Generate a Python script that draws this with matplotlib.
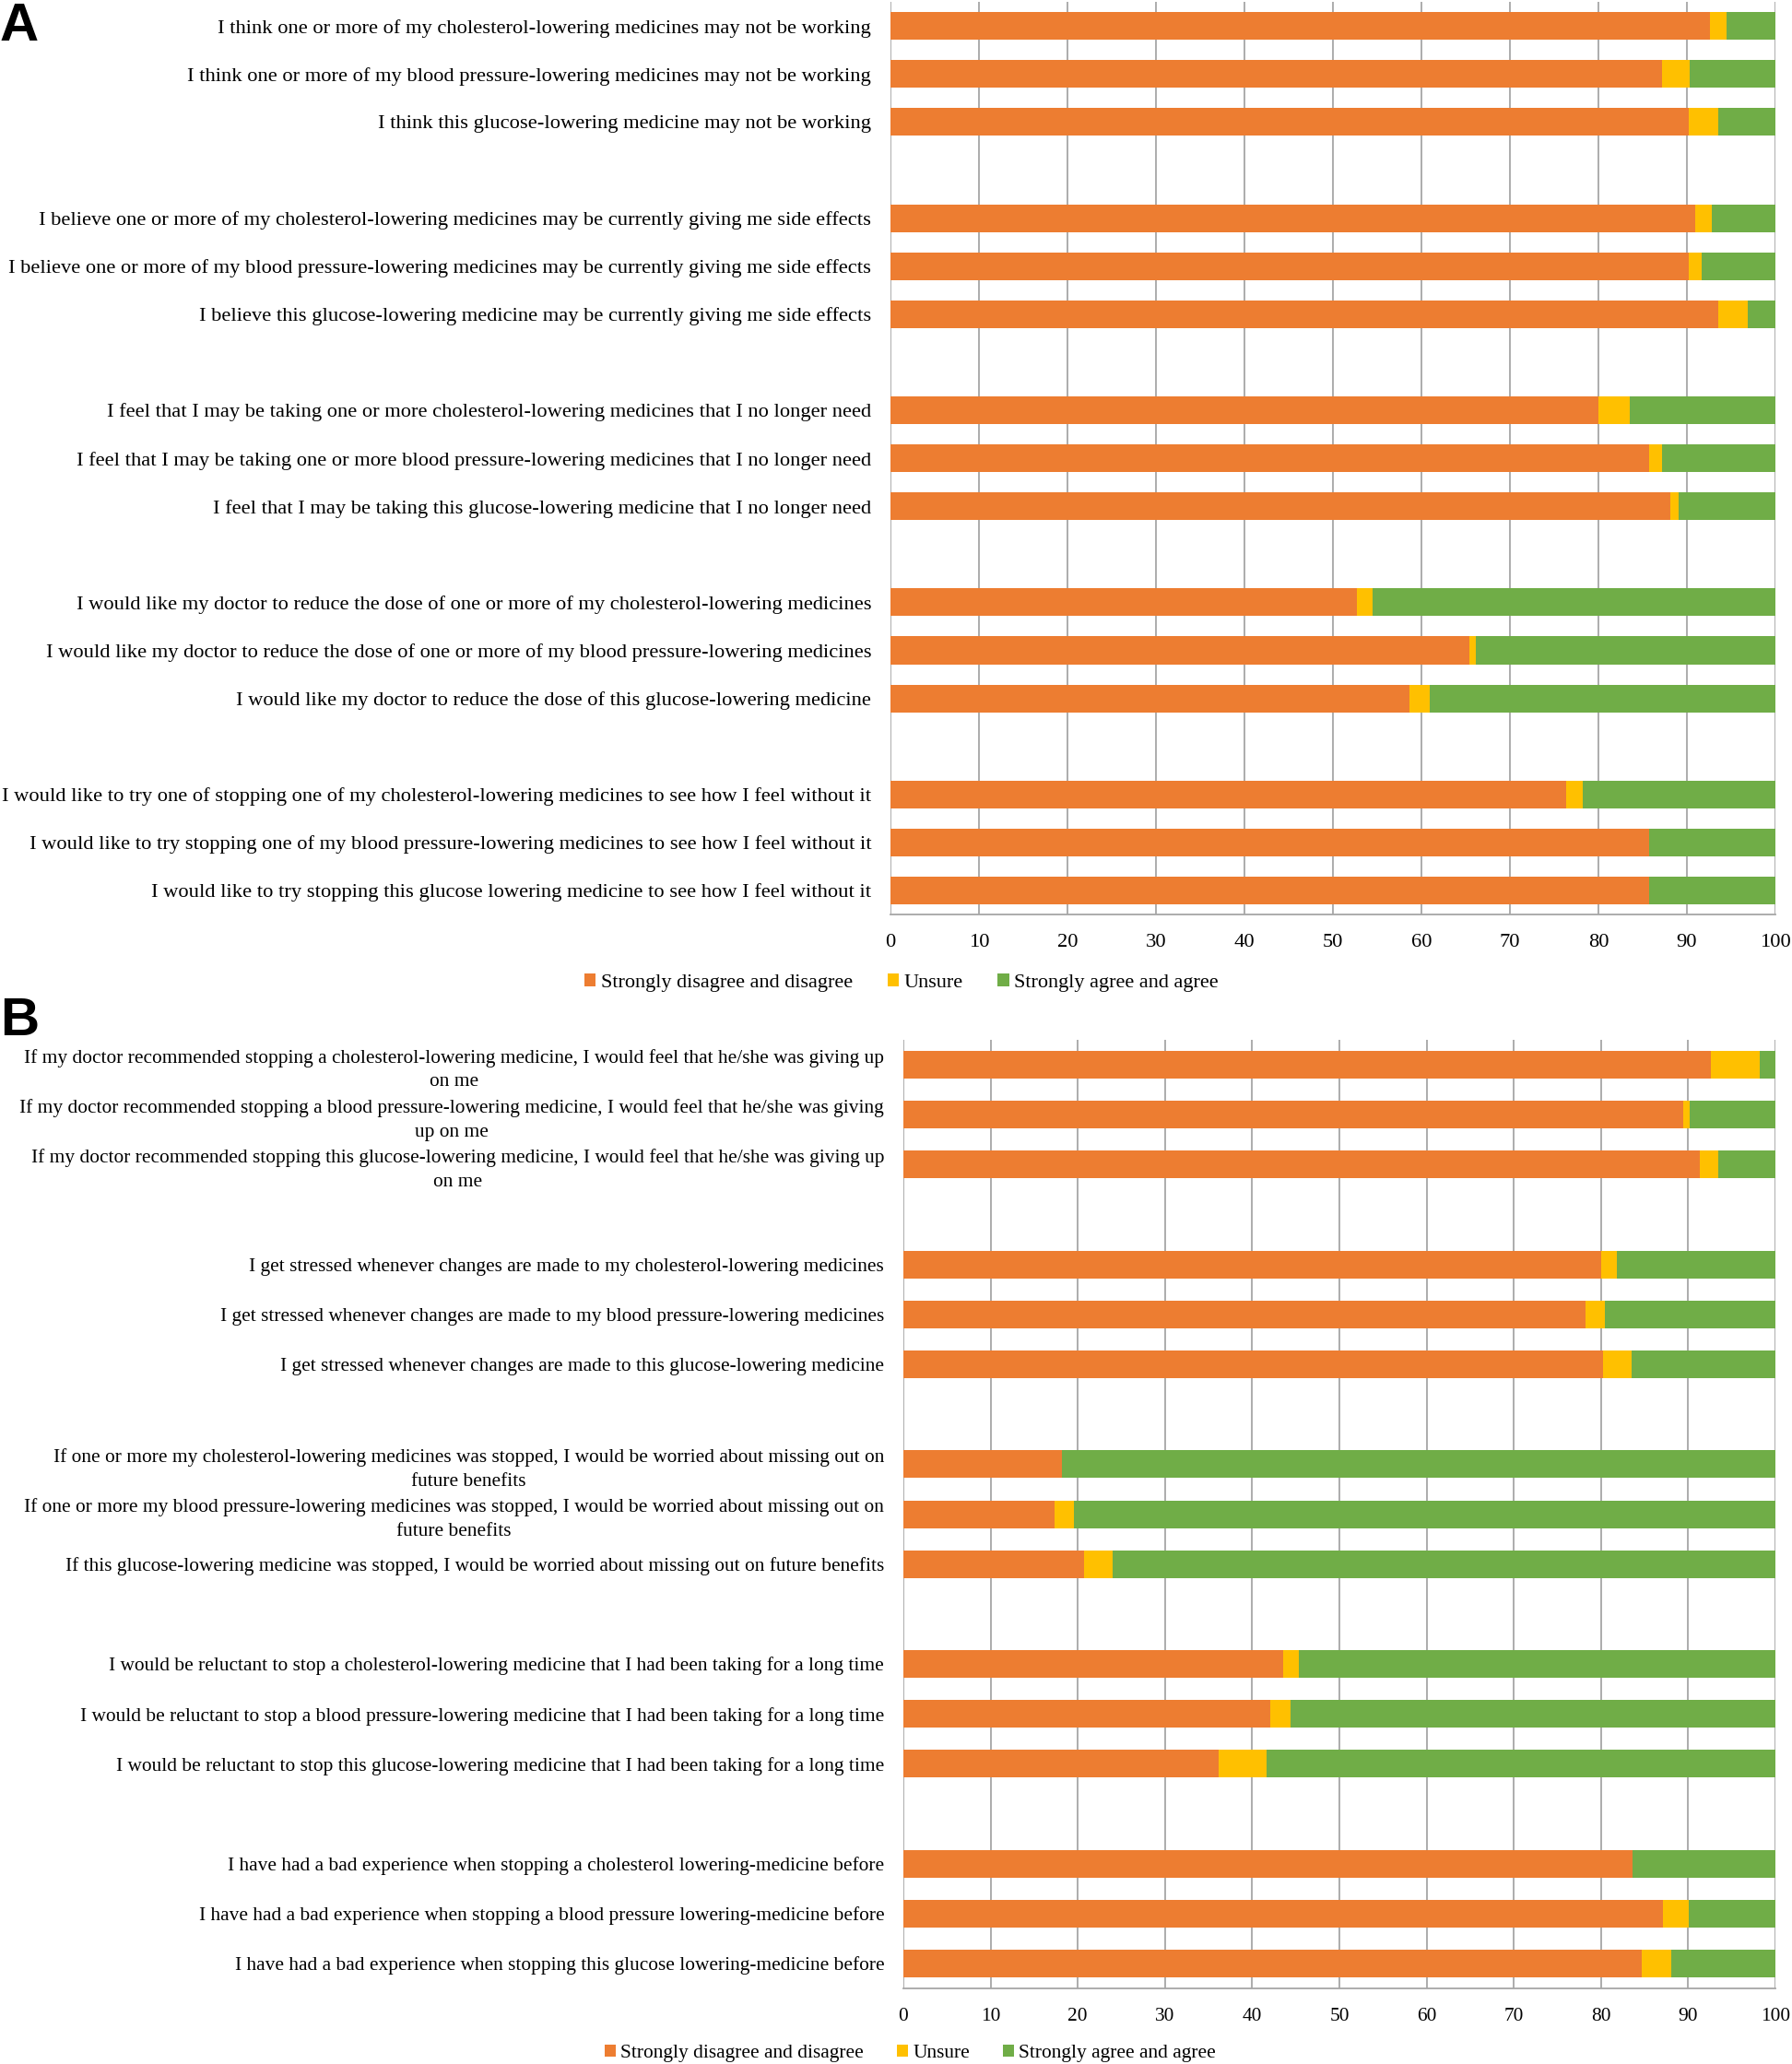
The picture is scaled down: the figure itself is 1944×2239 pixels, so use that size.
import matplotlib
matplotlib.use('Agg')
import matplotlib.pyplot as plt
from matplotlib.patches import Patch
import numpy as np

plt.rcParams['font.family'] = ['Liberation Serif', 'DejaVu Serif']

# panel A: beliefs about medicines
labels_a = [
    "I think one or more of my cholesterol-lowering medicines may not be working",
    "I think one or more of my blood pressure-lowering medicines may not be working",
    "I think this glucose-lowering medicine may not be working",
    "I believe one or more of my cholesterol-lowering medicines may be currently giving me side effects",
    "I believe one or more of my blood pressure-lowering medicines may be currently giving me side effects",
    "I believe this glucose-lowering medicine may be currently giving me side effects",
    "I feel that I may be taking one or more cholesterol-lowering medicines that I no longer need",
    "I feel that I may be taking one or more blood pressure-lowering medicines that I no longer need",
    "I feel that I may be taking this glucose-lowering medicine that I no longer need",
    "I would like my doctor to reduce the dose of one or more of my cholesterol-lowering medicines",
    "I would like my doctor to reduce the dose of one or more of my blood pressure-lowering medicines",
    "I would like my doctor to reduce the dose of this glucose-lowering medicine",
    "I would like to try one of stopping one of my cholesterol-lowering medicines to see how I feel without it",
    "I would like to try stopping one of my blood pressure-lowering medicines to see how I feel without it",
    "I would like to try stopping this glucose lowering medicine to see how I feel without it",
]
disagree_a = [92.6, 87.2, 90.2, 90.9, 90.2, 93.5, 80.0, 85.7, 88.1, 52.7, 65.4, 58.7, 76.4, 85.7, 85.7]
unsure_a = [1.9, 3.1, 3.3, 1.9, 1.5, 3.4, 3.6, 1.5, 1.0, 1.8, 0.8, 2.2, 1.8, 0.0, 0.0]
agree_a = [5.5, 9.7, 6.5, 7.2, 8.3, 3.1, 16.4, 12.8, 10.9, 45.5, 33.8, 39.1, 21.8, 14.3, 14.3]

# panel B: concerns about stopping
labels_b = [
    "If my doctor recommended stopping a cholesterol-lowering medicine, I would feel that he/she was giving up\non me",
    "If my doctor recommended stopping a blood pressure-lowering medicine, I would feel that he/she was giving\nup on me",
    "If my doctor recommended stopping this glucose-lowering medicine, I would feel that he/she was giving up\non me",
    "I get stressed whenever changes are made to my cholesterol-lowering medicines",
    "I get stressed whenever changes are made to my blood pressure-lowering medicines",
    "I get stressed whenever changes are made to this glucose-lowering medicine",
    "If one or more my cholesterol-lowering medicines was stopped, I would be worried about missing out on\nfuture benefits",
    "If one or more my blood pressure-lowering medicines was stopped, I would be worried about missing out on\nfuture benefits",
    "If this glucose-lowering medicine was stopped, I would be worried about missing out on future benefits",
    "I would be reluctant to stop a cholesterol-lowering medicine that I had been taking for a long time",
    "I would be reluctant to stop a blood pressure-lowering medicine that I had been taking for a long time",
    "I would be reluctant to stop this glucose-lowering medicine that I had been taking for a long time",
    "I have had a bad experience when stopping a cholesterol lowering-medicine before",
    "I have had a bad experience when stopping a blood pressure lowering-medicine before",
    "I have had a bad experience when stopping this glucose lowering-medicine before",
]
disagree_b = [92.6, 89.4, 91.3, 80.0, 78.2, 80.2, 18.2, 17.3, 20.7, 43.6, 42.1, 36.2, 83.6, 87.1, 84.7]
unsure_b = [5.6, 0.8, 2.2, 1.8, 2.3, 3.3, 0.0, 2.3, 3.3, 1.8, 2.3, 5.5, 0.0, 3.0, 3.4]
agree_b = [1.8, 9.8, 6.5, 18.2, 19.5, 16.5, 81.8, 80.4, 76.0, 54.6, 55.6, 58.3, 16.4, 9.9, 11.9]

series_names = ["Strongly disagree and disagree", "Unsure", "Strongly agree and agree"]
colors = ["#ED7D31", "#FFC000", "#70AD47"]


def draw_panel(ax, labels, dis, uns, agr, h, fs):
    n = len(labels)
    # 3 items per group, one empty slot between groups
    pos = np.array([(i // 3) * 4 + i % 3 for i in range(n)])
    dis, uns, agr = np.array(dis), np.array(uns), np.array(agr)
    ax.barh(pos, dis, height=h, color=colors[0], zorder=2)
    ax.barh(pos, uns, left=dis, height=h, color=colors[1], zorder=2)
    ax.barh(pos, agr, left=dis + uns, height=h, color=colors[2], zorder=2)
    ax.set_xlim(0, 100)
    ax.set_ylim(pos.max() + 0.5, -0.5)
    ax.set_xticks(np.arange(0, 101, 10))
    ax.set_yticks(pos)
    ax.set_yticklabels(labels, fontsize=fs, multialignment='center', linespacing=1.45)
    ax.tick_params(axis='y', length=0, pad=15)
    ax.tick_params(axis='x', length=0, pad=15, labelsize=fs)
    ax.grid(axis='x', color='#a6a6a6', linewidth=1.3, zorder=0)
    ax.set_axisbelow(True)
    for s in ['top', 'right', 'left']:
        ax.spines[s].set_visible(False)
    ax.spines['bottom'].set_color('#a6a6a6')
    ax.spines['bottom'].set_linewidth(1.3)


fig = plt.figure(figsize=(19.44, 22.39), dpi=100)
ax_a = fig.add_axes([0.4969, 0.5569, 0.4938, 0.4422])
ax_b = fig.add_axes([0.5041, 0.0366, 0.4866, 0.4596])

draw_panel(ax_a, labels_a, disagree_a, unsure_a, agree_a, 0.576, 16.2)
draw_panel(ax_b, labels_b, disagree_b, unsure_b, agree_b, 0.553, 15.4)

handles = [Patch(facecolor=c, edgecolor='none') for c in colors]
for y, x, fs in [(0.5239, 0.503, 16), (0.0053, 0.508, 15.4)]:
    fig.legend(handles, series_names, loc='center', bbox_to_anchor=(x, y), ncol=3,
               frameon=False, fontsize=fs, handlelength=0.55, handleheight=0.55,
               handletextpad=0.25, columnspacing=1.7)

fig.text(0.0, 0.999, "A", fontsize=42, fontweight='bold', family='Liberation Sans',
         ha='left', va='top')
fig.text(0.0, 0.517, "B", fontsize=42, fontweight='bold', family='Liberation Sans',
         ha='left', va='top')

fig.savefig('out.png', dpi=100)
